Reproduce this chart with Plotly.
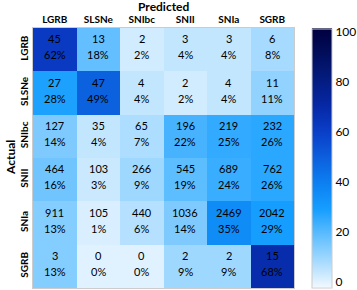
import plotly.graph_objects as go

classes = ["LGRB", "SLSNe", "SNIbc", "SNII", "SNIa", "SGRB"]
counts = [
    [45, 13, 2, 3, 3, 6],
    [27, 47, 4, 2, 4, 11],
    [127, 35, 65, 196, 219, 232],
    [464, 103, 266, 545, 689, 762],
    [911, 105, 440, 1036, 2469, 2042],
    [3, 0, 0, 2, 2, 15],
]
percents = [
    [62, 18, 2, 4, 4, 8],
    [28, 49, 4, 2, 4, 11],
    [14, 4, 7, 22, 25, 26],
    [16, 3, 9, 19, 24, 26],
    [13, 1, 6, 14, 35, 29],
    [13, 0, 0, 9, 9, 68],
]
cbar_ticks = [0, 20, 40, 60, 80, 100]

FONT = "Lato"

colorscale = [
    [0.0, "rgb(240,248,255)"],
    [0.1, "rgb(165,218,255)"],
    [0.2, "rgb(95,190,255)"],
    [0.3, "rgb(22,158,255)"],
    [0.4, "rgb(12,128,242)"],
    [0.5, "rgb(12,95,222)"],
    [0.6, "rgb(10,62,200)"],
    [0.7, "rgb(6,40,165)"],
    [0.8, "rgb(4,28,128)"],
    [0.9, "rgb(2,14,92)"],
    [1.0, "rgb(0,0,62)"],
]

fig = go.Figure()
fig.add_trace(go.Heatmap(
    z=percents, x=classes, y=classes,
    zmin=-2.2, zmax=101.5, colorscale=colorscale,
    xgap=0, ygap=0, hoverinfo="skip",
    colorbar=dict(
        x=1.069, xanchor="left", xref="paper", xpad=0, ypad=0,
        y=0.5, yanchor="middle", len=259, lenmode="pixels",
        thickness=20, thicknessmode="pixels",
        outlinewidth=1, outlinecolor="#cccccc",
        tickvals=cbar_ticks, ticks="", ticklabelposition="outside",
        ticklabeloverflow="allow",
        tickfont=dict(family=FONT, size=12, color="black"),
    ),
))

annotations = []
for i, row in enumerate(classes):
    for j, col in enumerate(classes):
        annotations.append(dict(x=col, y=row, text=str(counts[i][j]),
                                showarrow=False, yshift=11,
                                font=dict(family=FONT, size=11, color="black")))
        annotations.append(dict(x=col, y=row, text=f"{percents[i][j]}%",
                                showarrow=False, yshift=-5,
                                font=dict(family=FONT, size=11, color="black")))

annotations.append(dict(x=0.5, y=1.0, xref="paper", yref="paper", yshift=22,
                        text="<b>Predicted</b>", showarrow=False,
                        yanchor="middle",
                        font=dict(family=FONT, size=12, color="black")))
annotations.append(dict(x=0.0, y=0.5, xref="paper", yref="paper", xshift=-23,
                        text="<b>Actual</b>", showarrow=False, textangle=-90,
                        xanchor="center",
                        font=dict(family=FONT, size=12, color="black")))

fig.update_layout(
    width=357, height=290, autosize=False,
    margin=dict(l=33, r=63, t=28, b=2, pad=0, autoexpand=False),
    paper_bgcolor="white", plot_bgcolor="white",
    annotations=annotations,
    xaxis=dict(side="top", tickfont=dict(family=FONT, size=10, color="black"),
               ticks="", showgrid=False, zeroline=False, automargin=False,
               showline=True, linecolor="#cccccc", mirror=True,
               tickprefix="<b>", ticksuffix="</b>"),
    yaxis=dict(autorange="reversed", tickangle=-90,
               tickfont=dict(family=FONT, size=10, color="black"),
               ticks="", showgrid=False, zeroline=False, automargin=False,
               showline=True, linecolor="#cccccc", mirror=True,
               tickprefix="<b>", ticksuffix="</b>"),
)

fig.write_html("out.html", config={"responsive": False, "displayModeBar": False},
               post_script="document.body.style.margin='0';")
